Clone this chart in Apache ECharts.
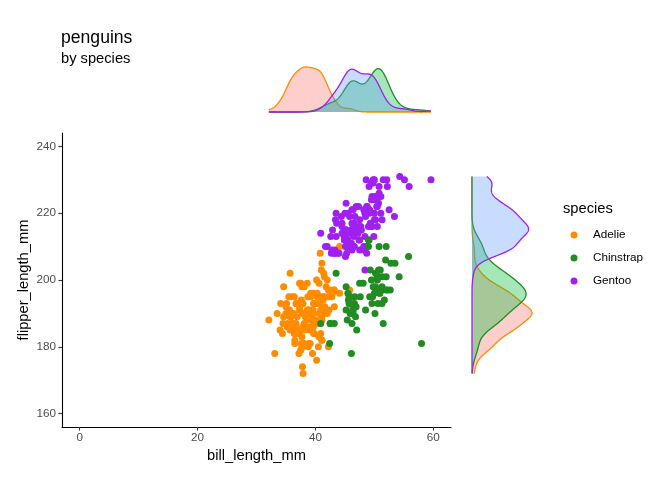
<!DOCTYPE html>
<html><head><meta charset="utf-8">
<script src="https://cdn.jsdelivr.net/npm/echarts@6/dist/echarts.min.js"></script>
<style>html,body{margin:0;padding:0;background:#fff}#c{width:672px;height:480px}</style>
</head><body><div id="c"></div>
<script>
const speciesNames = ['Adelie','Chinstrap','Gentoo'];
const drawOrder = ['Adelie','Gentoo','Chinstrap'];
const xTicks = [0,20,40,60];
const yTicks = [160,180,200,220,240];

const adelieBill = [39.1,39.5,40.3,36.7,39.3,38.9,39.2,34.1,42,37.8,
37.8,41.1,38.6,34.6,36.6,38.7,42.5,34.4,46,37.8,
37.7,35.9,38.2,38.8,35.3,40.6,40.5,37.9,40.5,39.5,
37.2,39.5,40.9,36.4,39.2,38.8,42.2,37.6,39.8,36.5,
40.8,36,44.1,37,39.6,41.1,37.5,36,42.3,39.6,
40.1,35,42,34.5,41.4,39,40.6,36.5,37.6,35.7,
41.3,37.6,41.1,36.4,41.6,35.5,41.1,35.9,41.8,33.5,
39.7,39.6,45.8,35.5,42.8,40.9,37.2,36.2,42.1,34.6,
42.9,36.7,35.1,37.3,41.3,36.3,36.9,38.3,38.9,35.7,
41.1,34,39.6,36.2,40.8,38.1,40.3,33.1,43.2,35,
41,37.7,37.8,37.9,39.7,38.6,38.2,38.1,43.2,38.1,
45.6,39.7,42.2,39.6,42.7,38.6,37.3,35.7,41.1,36.2,
37.7,40.2,41.4,35.2,40.6,38.8,41.5,39,44.1,38.5,
43.1,36.8,37.5,38.1,41.1,35.6,40.2,37,39.7,40.2,
40.6,32.1,40.7,37.3,39,39.2,36.6,36,37.8,36,41.5];
const adelieFlipper = [181,186,195,193,190,181,195,193,190,186,
180,182,191,198,185,195,197,184,194,174,
180,189,185,180,187,183,187,172,180,178,
178,188,184,195,196,190,180,181,184,182,
195,186,196,185,190,182,179,190,191,186,
188,190,200,187,191,186,193,181,194,185,
195,185,192,184,192,195,188,190,198,190,
190,196,197,190,195,191,184,187,195,189,
196,187,193,191,194,190,189,189,190,202,
205,185,186,187,208,190,196,178,192,192,
203,183,190,193,184,199,190,181,197,198,
191,193,197,191,196,188,199,189,189,187,
198,176,202,186,199,191,195,191,210,190,
197,193,199,187,190,191,200,185,193,193,
187,188,190,192,185,190,184,195,193,187,201];

const gentooBill = [46.1,50,48.7,50,47.6,46.5,45.4,46.7,43.3,46.8,
40.9,49,45.5,48.4,45.8,49.3,42,49.2,46.2,48.7,
50.2,45.1,46.5,46.3,42.9,46.1,44.5,47.8,48.2,50,
47.3,42.8,45.1,59.6,49.1,48.4,42.6,44.4,44,48.7,
42.7,49.6,45.3,49.6,50.5,43.6,45.5,50.5,44.9,45.2,
46.6,48.5,45.1,50.1,46.5,45,43.8,45.5,43.2,50.4,
45.3,46.2,45.7,54.3,45.8,49.8,46.2,49.5,43.5,50.7,
47.7,46.4,48.2,46.5,46.4,48.6,47.5,51.1,45.2,45.2,
49.1,52.5,47.4,50,44.9,50.8,43.4,51.3,47.5,52.1,
47.5,52.2,45.5,49.5,44.5,50.8,49.4,46.9,48.4,51.1,
48.5,55.9,47.2,49.1,47.3,46.8,41.7,53.4,43.3,48.1,
50.5,49.8,43.5,51.5,46.2,55.1,44.5,48.8,47.2,46.8,
50.4,45.2,49.9];
const gentooFlipper = [211,230,210,218,215,210,211,219,209,215,
214,216,214,213,210,217,210,221,209,222,
218,215,213,215,215,215,216,215,210,220,
222,209,207,230,220,220,213,219,208,208,
208,225,210,216,222,217,210,225,213,215,
210,220,210,225,217,220,208,220,208,224,
208,221,214,231,219,230,214,229,220,223,
216,221,221,217,216,230,209,220,215,223,
212,221,212,224,212,228,218,218,212,230,
218,228,212,224,214,226,216,222,203,225,
219,228,215,228,216,215,210,219,208,209,
216,229,213,230,217,230,217,222,214,215,
222,212,213];

const chinstrapBill = [46.5,50,51.3,45.4,52.7,45.2,46.1,51.3,46,51.3,
46.6,51.7,47,52,45.9,50.5,50.3,58,46.4,49.2,
42.4,48.5,43.2,50.6,46.7,52,50.5,49.5,46.4,52.8,
40.9,54.2,42.5,51,49.7,47.5,47.6,52,46.9,53.5,
49,46.2,50.9,45.5,50.9,50.8,50.1,49,51.5,49.8,
48.1,51.4,45.7,50.7,42.5,52.2,45.2,49.3,50.2,45.6,
51.9,46.8,45.7,55.8,43.5,49.6,50.8,50.2];
const chinstrapFlipper = [192,196,193,188,197,198,178,197,195,198,
193,194,185,201,190,201,197,181,190,195,
181,191,187,193,195,197,200,200,191,205,
187,201,187,203,195,199,195,210,192,205,
210,187,196,196,196,201,190,212,187,198,
199,201,193,203,187,197,191,203,202,194,
206,189,195,207,202,193,210,198];

const lineColors = {Adelie:'#FF8C00', Chinstrap:'#228B22', Gentoo:'#A020F0'};
const fillColors = {Adelie:'#F8766D', Chinstrap:'#00BA38', Gentoo:'#619CFF'};
const fillAlpha = 0.35;
const FONT = '"Liberation Sans", Arial, Helvetica, sans-serif';

const raw = {
  Adelie: [adelieBill, adelieFlipper],
  Chinstrap: [chinstrapBill, chinstrapFlipper],
  Gentoo: [gentooBill, gentooFlipper]
};

function rgba(hex, a){
  const n = parseInt(hex.slice(1),16);
  return 'rgba(' + ((n>>16)&255) + ',' + ((n>>8)&255) + ',' + (n&255) + ',' + a + ')';
}
function quantile(s, p){
  const h = (s.length-1)*p, lo = Math.floor(h), hi = Math.min(lo+1, s.length-1);
  return s[lo] + (h-lo)*(s[hi]-s[lo]);
}
function bwNrd0(x){
  const n = x.length;
  const m = x.reduce((a,b)=>a+b,0)/n;
  const sd = Math.sqrt(x.reduce((a,b)=>a+(b-m)*(b-m),0)/(n-1));
  const s = x.slice().sort((a,b)=>a-b);
  const iqr = quantile(s,0.75) - quantile(s,0.25);
  const lo = Math.min(sd, iqr/1.34);
  return 0.9*lo*Math.pow(n,-0.2);
}
function kde(x, grid){
  const h = bwNrd0(x), n = x.length, c = 1/(n*h*Math.sqrt(2*Math.PI));
  return grid.map(g => {
    let s = 0;
    for (const v of x){ const z=(g-v)/h; s += Math.exp(-0.5*z*z); }
    return s*c;
  });
}
function makeGrid(arrs){
  let mn = Infinity, mx = -Infinity;
  arrs.forEach(a => a.forEach(v => { if (v<mn) mn=v; if (v>mx) mx=v; }));
  const g = [];
  for (let i=0;i<512;i++) g.push(mn + (mx-mn)*i/511);
  return g;
}

const billGrid = makeGrid(speciesNames.map(s => raw[s][0]));
const flipGrid = makeGrid(speciesNames.map(s => raw[s][1]));
const topDens = {}, rightDens = {};
let topMax = 0, rightMax = 0;
speciesNames.forEach(s => {
  const d1 = kde(raw[s][0], billGrid);
  const d2 = kde(raw[s][1], flipGrid);
  topDens[s] = billGrid.map((g,i)=>[g, d1[i]]);
  rightDens[s] = flipGrid.map((g,i)=>[d2[i], g]);
  topMax = Math.max(topMax, ...d1);
  rightMax = Math.max(rightMax, ...d2);
});

const series = [];
drawOrder.forEach(s => {
  const b = raw[s][0], f = raw[s][1];
  const n = Math.min(b.length, f.length);
  const data = [];
  for (let i=0;i<n;i++) data.push([b[i], f[i]]);
  series.push({
    name: s, type: 'scatter', xAxisIndex: 0, yAxisIndex: 0,
    data: data, symbolSize: 7,
    itemStyle: { color: lineColors[s], opacity: 1 },
    emphasis: { disabled: true }, silent: true
  });
});

speciesNames.forEach(s => {
  const curve = topDens[s];
  series.push({
    name: 'top-' + s, type: 'custom', xAxisIndex: 1, yAxisIndex: 1,
    data: [[billGrid[0], 0]], silent: true, clip: false,
    renderItem: function(params, api){
      const pts = curve.map(p => api.coord(p));
      const b0 = api.coord([curve[0][0], 0]);
      const b1 = api.coord([curve[curve.length-1][0], 0]);
      return { type: 'group', children: [
        { type: 'polygon', shape: { points: [b0].concat(pts, [b1]) }, style: { fill: rgba(fillColors[s], fillAlpha), stroke: null } },
        { type: 'polyline', shape: { points: pts }, style: { fill: null, stroke: lineColors[s], lineWidth: 1.3 } }
      ]};
    }
  });
});

speciesNames.forEach(s => {
  const curve = rightDens[s];
  series.push({
    name: 'right-' + s, type: 'custom', xAxisIndex: 2, yAxisIndex: 2,
    data: [[0, flipGrid[0]]], silent: true, clip: false,
    renderItem: function(params, api){
      const pts = curve.map(p => api.coord(p));
      const b0 = api.coord([0, curve[0][1]]);
      const b1 = api.coord([0, curve[curve.length-1][1]]);
      return { type: 'group', children: [
        { type: 'polygon', shape: { points: [b0].concat(pts, [b1]) }, style: { fill: rgba(fillColors[s], fillAlpha), stroke: null } },
        { type: 'polyline', shape: { points: pts }, style: { fill: null, stroke: lineColors[s], lineWidth: 1.3 } }
      ]};
    }
  });
});

const hidden = { show: false };
const option = {
  animation: false,
  backgroundColor: '#fff',
  textStyle: { fontFamily: FONT },
  grid: [
    { left: 62, top: 133, width: 389, height: 294, containLabel: false },
    { left: 62, top: 67, width: 389, height: 45 },
    { left: 472, top: 133, width: 60, height: 294 }
  ],
  xAxis: [
    { gridIndex: 0, type: 'value', min: -3, max: 63,
      axisLine: { show: true, onZero: false, lineStyle: { color: '#000', width: 1.1 } },
      axisTick: { show: true, length: 3.5, customValues: xTicks, lineStyle: { color: '#333', width: 1.1 } },
      axisLabel: { customValues: xTicks, color: '#4D4D4D', fontSize: 11.7, margin: 5, fontFamily: FONT },
      splitLine: { show: false },
      name: 'bill_length_mm', nameLocation: 'middle', nameGap: 19,
      nameTextStyle: { fontSize: 14.7, color: '#000', fontFamily: FONT } },
    { gridIndex: 1, type: 'value', min: -3, max: 63, show: false, splitLine: hidden },
    { gridIndex: 2, type: 'value', min: 0, max: rightMax, show: false, splitLine: hidden }
  ],
  yAxis: [
    { gridIndex: 0, type: 'value', min: 156, max: 244,
      axisLine: { show: true, onZero: false, lineStyle: { color: '#000', width: 1.1 } },
      axisTick: { show: true, length: 3.5, customValues: yTicks, lineStyle: { color: '#333', width: 1.1 } },
      axisLabel: { customValues: yTicks, color: '#4D4D4D', fontSize: 11.7, margin: 6, fontFamily: FONT },
      splitLine: { show: false } },
    { gridIndex: 1, type: 'value', min: 0, max: topMax, show: false, splitLine: hidden },
    { gridIndex: 2, type: 'value', min: 156, max: 244, show: false, splitLine: hidden }
  ],
  legend: {
    data: speciesNames, orient: 'vertical', left: 565.5, top: 223,
    itemWidth: 28, itemHeight: 7, itemGap: 9, icon: 'circle',
    selectedMode: false,
    textStyle: { fontSize: 11.7, color: '#000', lineHeight: 14, fontFamily: FONT }
  },
  graphic: [
    { type: 'text', x: 61, y: 38, silent: true,
      style: { text: 'penguins', font: '17.6px ' + FONT, fill: '#000', textVerticalAlign: 'middle', verticalAlign: 'middle' } },
    { type: 'text', x: 61, y: 58.5, silent: true,
      style: { text: 'by species', font: '14.7px ' + FONT, fill: '#000', textVerticalAlign: 'middle', verticalAlign: 'middle' } },
    { type: 'text', x: 563, y: 208.5, silent: true,
      style: { text: 'species', font: '14.7px ' + FONT, fill: '#000', textVerticalAlign: 'middle', verticalAlign: 'middle' } },
    { type: 'text', x: 24, y: 280, rotation: Math.PI / 2, silent: true,
      style: { text: 'flipper_length_mm', font: '14.7px ' + FONT, fill: '#000', align: 'center', textAlign: 'center', textVerticalAlign: 'middle', verticalAlign: 'middle' } }
  ],
  series: series
};

const chart = echarts.init(document.getElementById('c'), null, { renderer: 'canvas' });
chart.setOption(option);
</script>
</body></html>
